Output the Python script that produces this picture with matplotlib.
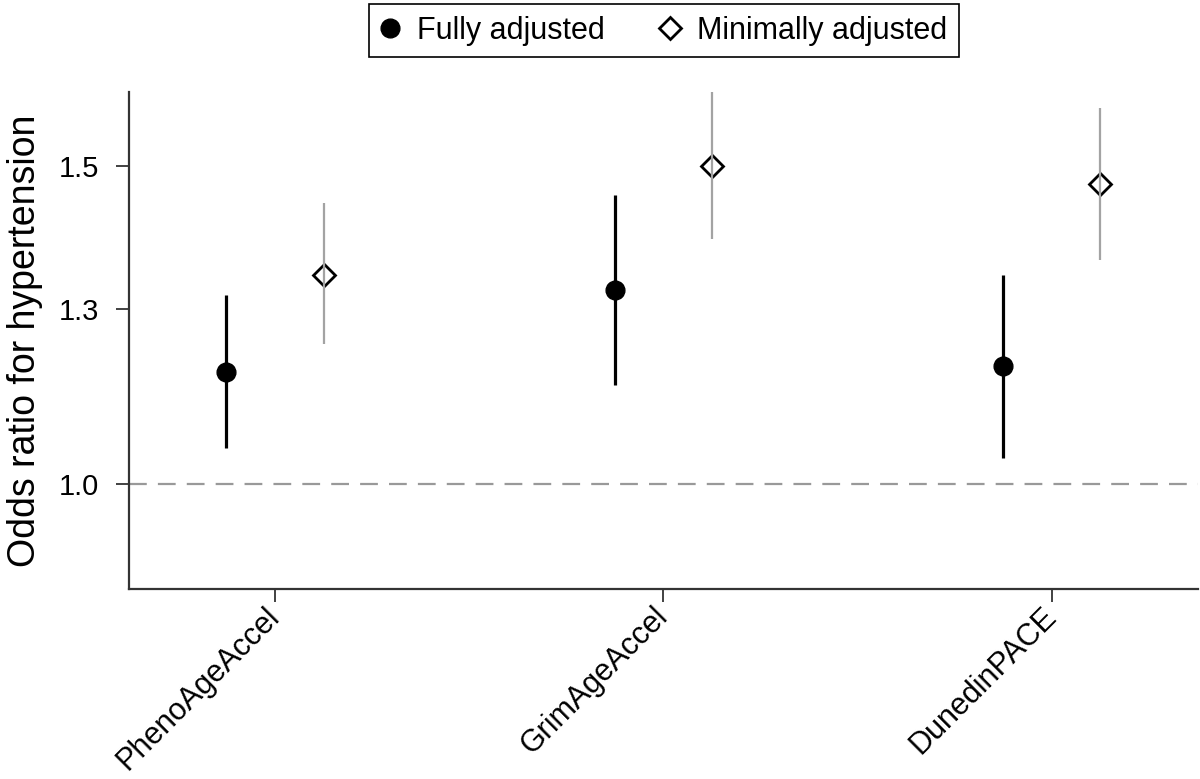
import numpy as np
import matplotlib
matplotlib.use("Agg")
import matplotlib.pyplot as plt
from matplotlib.lines import Line2D
from matplotlib.ticker import FixedLocator, NullLocator, NullFormatter

# ---- data ----
categories = ["PhenoAgeAccel", "GrimAgeAccel", "DunedinPACE"]
full_or = [1.154, 1.281, 1.163]
full_lo = [1.047, 1.135, 1.034]
full_hi = [1.272, 1.445, 1.306]
min_or = [1.306, 1.500, 1.466]
min_lo = [1.195, 1.366, 1.330]
min_hi = [1.430, 1.660, 1.614]
ytick_vals = [1.0, 1.25, 1.5]
ytick_labels = ["1.0", "1.3", "1.5"]
legend_labels = ["Fully adjusted", "Minimally adjusted"]

plt.rcParams['font.family'] = ['Liberation Sans', 'DejaVu Sans']

fig = plt.figure(figsize=(12, 7.79), dpi=100)
ax = fig.add_axes([0.1075, 0.2435, 0.8908, 0.6387])

x = np.arange(1, len(categories) + 1)
off = 0.125

# minimally adjusted (grey CI, hollow diamond)
ax.plot(x + off, min_or, ls="none", marker="D", ms=11.5, mfc="white",
        mec="black", mew=2.0, zorder=3)
ax.vlines(x + off, min_lo, min_hi, color="#a3a3a3", lw=1.6, zorder=4)

# fully adjusted (black CI, filled circle)
ax.vlines(x - off, full_lo, full_hi, color="black", lw=2.3, zorder=2)
ax.plot(x - off, full_or, ls="none", marker="o", ms=13.5, mfc="black",
        mec="black", zorder=3)

ax.axhline(1.0, color="#999999", lw=1.6, dashes=(8, 5), zorder=1)

ax.set_yscale("log")
ax.set_ylim(0.8746, 1.6484)
ax.set_xlim(0.624, 3.376)
ax.yaxis.set_major_locator(FixedLocator(ytick_vals))
ax.yaxis.set_minor_locator(NullLocator())
ax.yaxis.set_minor_formatter(NullFormatter())
ax.set_yticks(ytick_vals)
ax.set_yticklabels(ytick_labels)
ax.set_xticks(x)
ax.set_xticklabels(categories, rotation=45, ha="right", va="center",
                   rotation_mode="anchor")

for s in ["top", "right"]:
    ax.spines[s].set_visible(False)
for s in ["left", "bottom"]:
    ax.spines[s].set_color("#333333")
    ax.spines[s].set_linewidth(1.6)

ax.tick_params(axis="both", length=9.5, width=1.3, color="#333333",
               labelcolor="black")
ax.tick_params(axis="y", pad=12, labelsize=21)
ax.tick_params(axis="x", pad=7, labelsize=22)

ax.set_ylabel("Odds ratio for hypertension", fontsize=27, labelpad=11)

handles = [
    Line2D([], [], ls="none", marker="o", ms=13.5, mfc="black", mec="black"),
    Line2D([], [], ls="none", marker="D", ms=11.5, mfc="white", mec="black", mew=2.0),
]
leg = fig.legend(handles, legend_labels, loc="center",
                 bbox_to_anchor=(664 / 1200, 1 - 30.5 / 779), ncol=2,
                 fontsize=22, frameon=True, fancybox=False, edgecolor="black",
                 framealpha=1, borderpad=0.38, handlelength=0.6,
                 handletextpad=0.575, columnspacing=1.86)
leg.get_frame().set_linewidth(1.2)

fig.savefig("out.png", dpi=100)
